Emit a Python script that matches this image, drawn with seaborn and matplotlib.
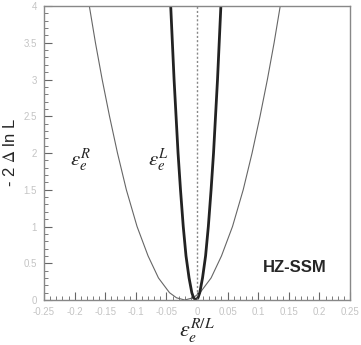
import numpy as np
import pandas as pd
import matplotlib
matplotlib.use('Agg')
import matplotlib.pyplot as plt
from matplotlib.ticker import MultipleLocator
import seaborn as sns

# values (x of each branch at a given -2 delta lnL)
thin_x = [-0.176, -0.166, -0.155, -0.143, -0.130, -0.1155, -0.098, -0.080, -0.063,
          -0.045, -0.0335, -0.020, -0.0065, 0.005, 0.023, 0.040, 0.058, 0.0755,
          0.090, 0.103, 0.115, 0.126, 0.136]
thin_y = [4.0, 3.5, 3.0, 2.5, 2.0, 1.5, 1.0, 0.6, 0.3,
          0.1, 0.03, 0.0, 0.03, 0.1, 0.3, 0.6, 1.0, 1.5,
          2.0, 2.5, 3.0, 3.5, 4.0]

thick_x = [-0.043, -0.0375, -0.031, -0.027, -0.0225, -0.018, -0.013, -0.0085, -0.0056,
           -0.002, 0.0016, 0.0045, 0.009, 0.014, 0.0185, 0.023, 0.027, 0.0335, 0.039]
thick_y = [4.0, 3.0, 2.0, 1.5, 1.0, 0.6, 0.3, 0.1, 0.03,
           0.0, 0.03, 0.1, 0.3, 0.6, 1.0, 1.5, 2.0, 3.0, 4.0]

sns.set_style('ticks')
plt.rcParams['mathtext.fontset'] = 'stix'
plt.rcParams['font.family'] = ['Liberation Sans', 'DejaVu Sans']

fig = plt.figure(figsize=(3.61, 3.45), dpi=100)
ax = fig.add_axes([0.122, 0.1304, 0.8475, 0.8522])

thin = pd.DataFrame({'x': thin_x, 'y': thin_y})
thick = pd.DataFrame({'x': thick_x, 'y': thick_y})
sns.lineplot(data=thin, x='x', y='y', ax=ax, color='#666666', lw=0.8, estimator=None)
sns.lineplot(data=thick, x='x', y='y', ax=ax, color='#222222', lw=2.0, estimator=None)
ax.axvline(0, color='#888888', lw=1.0, ls=(0, (1.5, 1.5)))

ax.set_xlim(-0.25, 0.25)
ax.set_ylim(0, 4)
ax.xaxis.set_minor_locator(MultipleLocator(0.01))
ax.yaxis.set_minor_locator(MultipleLocator(0.1))
ax.set_xticks(np.arange(-0.25, 0.2501, 0.05))
ax.set_xticklabels(['-0.25', '-0.2', '-0.15', '-0.1', '-0.05', '0', '0.05', '0.1', '0.15', '0.2', '0.25'])
ax.set_yticks(np.arange(0, 4.01, 0.5))
ax.set_yticklabels(['0', '0.5', '1', '1.5', '2', '2.5', '3', '3.5', '4'])
ax.tick_params(which='major', direction='in', length=6, width=0.8, color='#666666',
               labelsize=7, labelcolor='#c4c4c4', pad=5)
ax.tick_params(which='minor', direction='in', length=3, width=0.6, color='#666666')
for s in ax.spines.values():
    s.set_color('#888888')
    s.set_linewidth(1.0)

ax.set_xlabel(r'$\varepsilon_e^{R/L}$', fontsize=16, labelpad=0)
ax.set_ylabel(r'- 2 $\Delta$ ln L', fontsize=12, labelpad=4)

ax.text(-0.19, 1.9, r'$\varepsilon_e^{R}$', fontsize=15, ha='center', va='center')
ax.text(-0.064, 1.9, r'$\varepsilon_e^{L}$', fontsize=15, ha='center', va='center')
ax.text(0.16, 0.44, 'HZ-SSM', fontsize=12, fontweight='bold', ha='center', va='center')

fig.savefig('out.png', dpi=100)
